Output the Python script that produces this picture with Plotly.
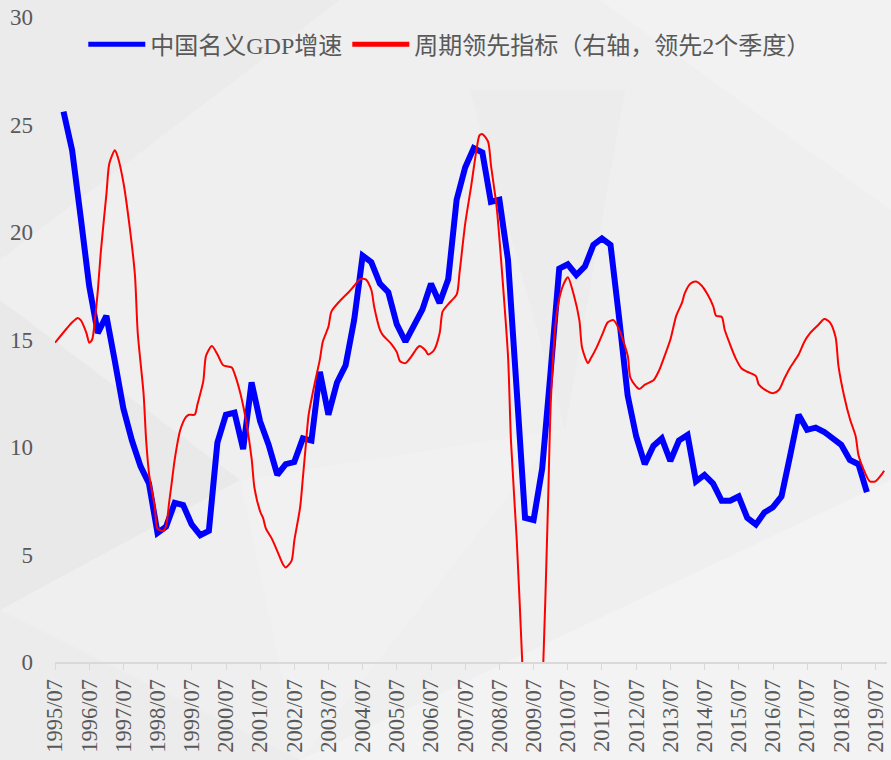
import pandas as pd
import plotly.graph_objects as go

# quarterly nominal GDP growth, 1995Q3 .. 2019Q1 (quarter-end dates)
gdp_dates = pd.date_range("1995-09-30", "2019-03-31", freq="QE")
gdp_growth = [25.6, 23.8, 20.7, 17.5, 15.3, 16.1, 14.0, 11.8, 10.3, 9.1,
              8.3, 6.0, 6.3, 7.4, 7.3, 6.4, 5.9, 6.1, 10.2, 11.5,
              11.6, 9.9, 13.0, 11.2, 10.1, 8.7, 9.2, 9.3, 10.4, 10.3,
              13.5, 11.5, 13.0, 13.8, 15.9, 18.9, 18.6, 17.6, 17.2, 15.7,
              14.9, 15.7, 16.4, 17.6, 16.7, 17.8, 21.5, 23.0, 23.9, 23.7,
              21.4, 21.5, 18.7, 12.7, 6.7, 6.6, 9.0, 13.6, 18.3, 18.5,
              18.0, 18.4, 19.4, 19.7, 19.4, 16.0, 12.4, 10.5, 9.2, 10.05,
              10.4, 9.35, 10.3, 10.56, 8.4, 8.7, 8.3, 7.5, 7.5, 7.7,
              6.7, 6.4, 6.95, 7.2, 7.7, 9.6, 11.5, 10.8, 10.9, 10.7,
              10.4, 10.1, 9.4, 9.2, 7.9]

# leading indicator (right axis, shifted 2 quarters), monthly readings
lead_months = ["1995-07", "1995-11", "1996-01", "1996-03", "1996-04", "1996-06", "1996-07", "1996-08",
               "1996-09", "1996-10", "1996-11", "1997-01", "1997-02", "1997-04", "1997-05", "1997-07",
               "1997-09", "1997-11", "1997-12", "1998-02", "1998-03", "1998-04", "1998-06", "1998-07",
               "1998-09", "1998-10", "1998-11", "1998-12", "1999-01", "1999-03", "1999-05", "1999-06",
               "1999-08", "1999-09", "1999-11", "1999-12", "2000-02", "2000-04", "2000-06", "2000-09",
               "2000-10", "2000-12", "2001-02", "2001-04", "2001-05", "2001-07", "2001-08", "2001-09",
               "2001-11", "2002-01", "2002-03", "2002-04", "2002-06", "2002-07", "2002-09", "2002-10",
               "2002-11", "2002-12", "2003-02", "2003-04", "2003-05", "2003-07", "2003-08", "2003-11",
               "2004-02", "2004-04", "2004-06", "2004-08", "2004-10", "2004-11", "2005-01", "2005-02",
               "2005-05", "2005-07", "2005-08", "2005-10", "2005-12", "2006-02", "2006-03", "2006-05",
               "2006-06", "2006-08", "2006-10", "2006-11", "2007-01", "2007-04", "2007-05", "2007-07",
               "2007-09", "2007-11", "2007-12", "2008-01", "2008-03", "2008-04", "2008-06", "2008-08",
               "2008-10", "2008-11", "2009-01", "2009-03", "2009-04", "2009-05", "2009-06", "2009-07",
               "2009-08", "2009-09", "2009-10", "2009-12", "2010-01", "2010-03", "2010-05", "2010-07",
               "2010-09", "2010-11", "2010-12", "2011-02", "2011-03", "2011-05", "2011-07", "2011-09",
               "2011-11", "2012-01", "2012-04", "2012-05", "2012-08", "2012-10", "2013-01", "2013-03",
               "2013-05", "2013-07", "2013-09", "2013-11", "2013-12", "2014-02", "2014-04", "2014-06",
               "2014-08", "2014-10", "2014-11", "2015-01", "2015-02", "2015-04", "2015-06", "2015-08",
               "2015-10", "2016-01", "2016-02", "2016-05", "2016-07", "2016-09", "2016-11", "2017-01",
               "2017-04", "2017-06", "2017-08", "2017-11", "2018-01", "2018-03", "2018-05", "2018-06",
               "2018-08", "2018-10", "2018-12", "2019-01", "2019-03", "2019-05", "2019-07", "2019-09",
               "2019-10"]
lead_values = [14.85, 15.5, 15.8, 16.0, 15.9, 15.3, 14.85, 15.0,
               16.0, 17.3, 19.05, 21.8, 23.2, 23.8, 23.5, 22.3,
               20.4, 18.0, 15.3, 12.5, 10.3, 8.75, 7.2, 6.2,
               6.1, 6.35, 7.4, 8.4, 9.45, 10.8, 11.4, 11.5,
               11.5, 12.0, 13.05, 14.25, 14.7, 14.3, 13.8, 13.7,
               13.4, 12.5, 11.2, 9.45, 8.1, 7.0, 6.7, 6.2,
               5.75, 5.15, 4.55, 4.4, 4.7, 5.65, 7.2, 8.6,
               10.1, 11.5, 12.9, 14.1, 14.9, 15.6, 16.3, 16.8,
               17.2, 17.5, 17.8, 17.8, 17.3, 16.5, 15.45, 15.2,
               14.8, 14.4, 14.0, 13.9, 14.2, 14.6, 14.7, 14.5,
               14.3, 14.5, 15.3, 16.3, 16.65, 17.1, 18.1, 20.4,
               22.1, 23.9, 24.5, 24.55, 24.2, 23.1, 21.15, 17.9,
               14.15, 10.25, 5.7, 0.0, -3.5, -6.5, -8.0, -8.0,
               -6.5, -3.5, -1.5, 7.3, 12.2, 16.1, 17.4, 17.9,
               17.1, 15.9, 14.6, 13.9, 14.1, 14.6, 15.2, 15.8,
               15.9, 15.45, 14.25, 13.2, 12.7, 12.9, 13.1, 13.55,
               14.25, 15.0, 16.1, 16.7, 17.15, 17.6, 17.7, 17.5,
               17.1, 16.55, 16.1, 16.05, 15.45, 14.75, 14.1, 13.65,
               13.5, 13.3, 12.9, 12.6, 12.5, 12.65, 13.2, 13.7,
               14.3, 14.9, 15.3, 15.7, 15.95, 15.8, 15.1, 13.75,
               12.35, 11.3, 10.5, 9.6, 8.9, 8.4, 8.4, 8.7,
               8.9]

W, H = 891, 760
ML, MR, MT, MB = 55, 4, 17, 98
GREY = "#595959"
FONT = "Times New Roman, Liberation Serif, Noto Sans CJK SC, serif"


def to_paper(pts):
    # pixel -> paper coords, only used for the background facets
    pw, ph = W - ML - MR, H - MT - MB
    return " L".join("{:.4f},{:.4f}".format((x - ML) / pw, (H - MB - y) / ph) for x, y in pts)


facets = [
    ([(0, 0), (340, 0), (0, 260)], "#ebebeb"),
    ([(0, 300), (240, 480), (0, 610)], "#e9e9e9"),
    ([(470, 90), (625, 90), (565, 430)], "#ececec"),
    ([(600, 0), (891, 0), (891, 210)], "#f2f2f2"),
    ([(300, 760), (891, 480), (891, 760)], "#f3f3f3"),
    ([(0, 610), (300, 760), (0, 760)], "#ececec"),
    ([(240, 480), (560, 430), (300, 760)], "#f1f1f1"),
]
shapes = []
for pts, col in facets:
    shapes.append(dict(type="path", xref="paper", yref="paper", layer="below",
                       path="M" + to_paper(pts) + " Z", fillcolor=col, line=dict(width=0)))

fig = go.Figure()
fig.add_trace(go.Scatter(x=gdp_dates, y=gdp_growth, name="中国名义GDP增速", mode="lines",
                         line=dict(color="#0000ff", width=6)))
fig.add_trace(go.Scatter(x=pd.to_datetime(lead_months), y=lead_values, yaxis="y2",
                         name="周期领先指标（右轴，领先2个季度）", mode="lines",
                         line=dict(color="#ff0000", width=2, shape="spline", smoothing=0.7)))

fig.update_layout(
    width=W, height=H,
    margin=dict(l=ML, r=MR, t=MT, b=MB, autoexpand=False),
    paper_bgcolor="#efefef", plot_bgcolor="rgba(0,0,0,0)",
    font=dict(family=FONT, color=GREY, size=22),
    shapes=shapes,
    showlegend=True,
    legend=dict(orientation="h", x=0.034, y=0.992, xanchor="left", yanchor="top",
                bgcolor="rgba(0,0,0,0)", font=dict(size=24, color=GREY, family=FONT),
                itemwidth=57, itemsizing="constant"),
    xaxis=dict(type="date", range=["1995-07-01", "2019-11-01"], automargin=False,
               tick0="1995-07-01", dtick="M12", tickformat="%Y/%m", tickangle=-90,
               showgrid=False, zeroline=False,
               showline=True, linecolor="#d9d9d9", linewidth=2,
               ticks="outside", ticklen=6, tickcolor="#d9d9d9", tickwidth=1,
               tickfont=dict(size=22.5, color=GREY, family=FONT)),
    yaxis=dict(range=[0, 30], dtick=5, showgrid=False, zeroline=False, showline=False,
               ticks="", ticklabelstandoff=21, automargin=False,
               tickfont=dict(size=23, color=GREY, family=FONT)),
    yaxis2=dict(range=[0, 30], overlaying="y", side="right", visible=False),
)

# the page body carries an 8px default margin; drop it so the figure sits at the corner
fig.write_html("out.html", config={"displayModeBar": False},
               post_script="document.body.style.margin='0';")
